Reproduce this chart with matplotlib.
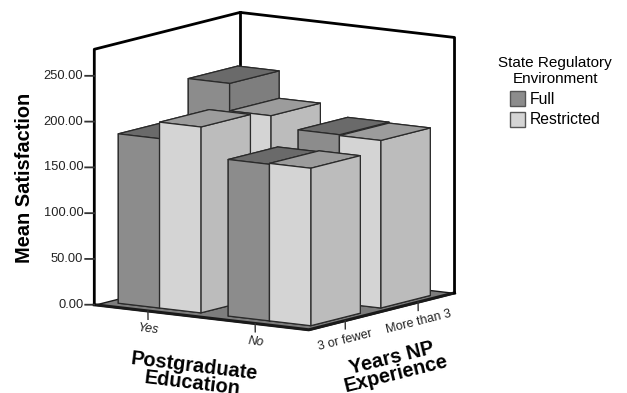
import matplotlib
matplotlib.use("Agg")
import matplotlib.pyplot as plt
from matplotlib.patches import Patch
from mpl_toolkits.mplot3d.art3d import Poly3DCollection

plt.rcParams['font.family'] = ['Liberation Sans', 'DejaVu Sans']

# values
edu_labels = ["Yes", "No"]
years_labels = ["3 or fewer", "More than 3"]
env_labels = ["Full", "Restricted"]
z_ticks = [0, 50, 100, 150, 200, 250]
# rows are years NP, columns are postgraduate education
full_mean = [[185, 171], [226, 184]]
restricted_mean = [[203, 172], [196, 183]]

z_top = 279
bar_w = 0.385
bar_d = 0.68
col_centers = [0.5, 1.525]
row_centers = [0.5, 1.46]

# one pixel straight down on screen, in x and y data units
down_x = 0.0263
down_y = -0.0385

fig = plt.figure(figsize=(6.27, 3.93), dpi=100)
W, H = 627, 393
ax = fig.add_axes([69 / W, 16.5 / H, 400 / W, 400 / H], projection="3d")
ax.set_proj_type("ortho")
ax.view_init(elev=9.9, azim=-55.8)
ax.set_box_aspect((1, 1, 1), zoom=1.09)
ax.set_xlim(0, 2)
ax.set_ylim(0, 2)
ax.set_zlim(0, z_top)
ax.set_axis_off()
ax.patch.set_alpha(0)
ax.computed_zorder = False

# floor
floor = Poly3DCollection([[(0, 0, 0), (2, 0, 0), (2, 2, 0), (0, 2, 0)]],
                         facecolor="#7d7d7d", edgecolor="#1a1a1a", linewidth=1.0, zorder=1)
ax.add_collection3d(floor)
ax.plot([0, 2, 2], [0, 0, 2], [0, 0, 0], color="#1a1a1a", lw=2.2, zorder=2)

# box lines
ax.plot([0, 0, 0, 2, 2], [0, 0, 2, 2, 2], [0, z_top, z_top, z_top, 0], color="black", lw=2, zorder=2)
ax.plot([0, 0], [2, 2], [0, z_top], color="black", lw=2, zorder=2)

# z axis ticks
for t in z_ticks:
    ax.plot([-0.058, 0], [-0.039, 0], [t, t], color="#333333", lw=1.3, zorder=2)
    ax.text(-0.07, -0.047, t, f"{t:.2f}", ha="right", va="center", fontsize=9.3, color="#222222",
            zorder=40)

# category ticks, zdir lays the text along the floor edge
for i, lab in enumerate(edu_labels):
    x = i + 0.5
    ax.plot([x, x + 8 * down_x], [0, 8 * down_y], [0, 0], color="#333333", lw=1, zorder=2)
    ax.text(x + 18 * down_x, 18 * down_y, 0, lab, zdir="x", ha="center", va="center",
            fontsize=9, style="italic", color="#222222", zorder=40)
for i, lab in enumerate(years_labels):
    y = i + 0.5
    ax.plot([2, 2 + 8 * down_x], [y, y + 8 * down_y], [0, 0], color="#333333", lw=1, zorder=2)
    ax.text(2 + 19 * down_x, y + 19 * down_y, 0, lab, zdir="y", ha="center", va="center",
            fontsize=9, color="#222222", zorder=40)

# bars, back row first so the front row covers it
zo = 3
for row in [1, 0]:
    for col in [0, 1]:
        x0 = col_centers[col] - bar_w
        y0 = row_centers[row] - bar_d / 2
        ax.bar3d(x0, y0, 0, bar_w, bar_d, full_mean[row][col],
                 color=["#7d7d7d", "#6a6a6a", "#8c8c8c", "#8c8c8c", "#8c8c8c", "#7e7e7e"],
                 shade=False, edgecolor="#2a2a2a", linewidth=0.9, zorder=zo)
        zo += 1
        ax.bar3d(x0 + bar_w, y0, 0, bar_w, bar_d, restricted_mean[row][col],
                 color=["#bcbcbc", "#9c9c9c", "#d4d4d4", "#d4d4d4", "#d4d4d4", "#bcbcbc"],
                 shade=False, edgecolor="#2a2a2a", linewidth=0.9, zorder=zo)
        zo += 1

# axis titles
fig.text(25 / W, 1 - 178 / H, "Mean Satisfaction", rotation=90, ha="center", va="center",
         fontsize=14.4, fontweight="bold")
fig.text(193 / W, 1 - 375 / H, "Postgraduate\nEducation", rotation=-7, ha="center", va="center",
         fontsize=14.4, fontweight="bold", linespacing=0.9)
fig.text(394 / W, 1 - 366 / H, "Years NP\nExperience", rotation=14, ha="center", va="center",
         fontsize=14.4, fontweight="bold", linespacing=0.85)

# legend
handles = [Patch(facecolor="#8c8c8c", edgecolor="#555555", label=env_labels[0]),
           Patch(facecolor="#d4d4d4", edgecolor="#555555", label=env_labels[1])]
leg = fig.legend(handles=handles, title="State Regulatory\nEnvironment", loc="upper left",
                 bbox_to_anchor=(484 / W, 1 - 42 / H), frameon=False, fontsize=11.3,
                 title_fontsize=11, handlelength=0.95, handleheight=1.1, handletextpad=0.3,
                 labelspacing=0.3, alignment="center")
leg.get_title().set_multialignment("center")

fig.savefig("out.png", dpi=100)
